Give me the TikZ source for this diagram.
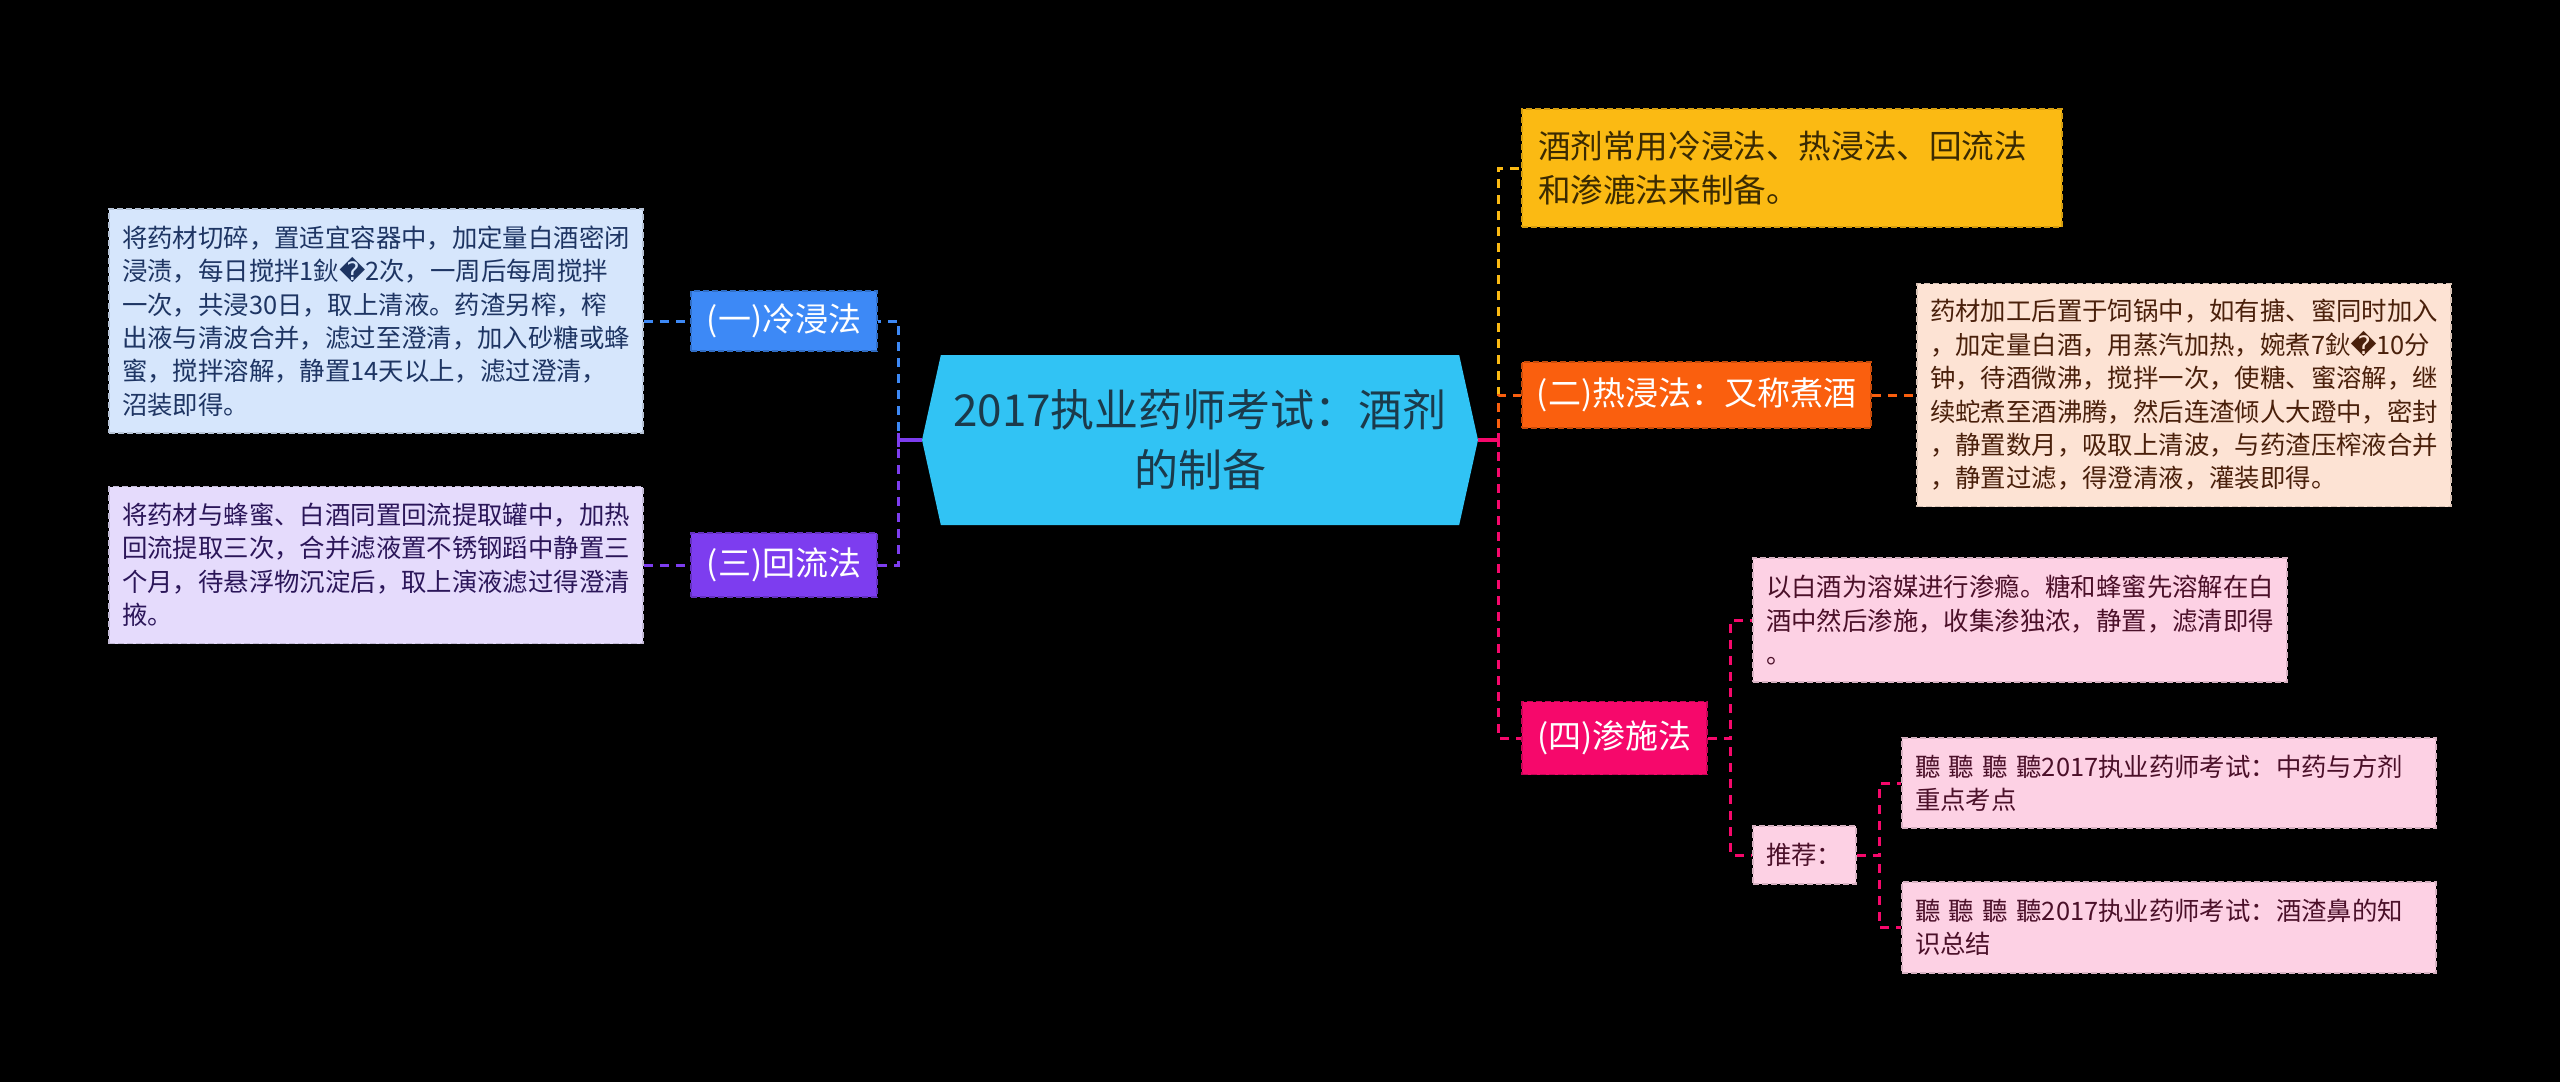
\documentclass[tikz,border=0pt]{standalone}
\usepackage{fontspec}
\setmainfont{Noto Sans CJK SC}
\newfontfamily\symfont{DejaVu Sans}
\newcommand{\badchar}{{\symfont\char"FFFD}}
\usetikzlibrary{shapes.symbols}

\definecolor{rootfill}{HTML}{31C3F4}
\definecolor{roottext}{HTML}{1B3A4B}
\definecolor{coldblue}{HTML}{3D89F6}
\definecolor{coldpale}{HTML}{D6E6FC}
\definecolor{coldink}{HTML}{1E3563}
\definecolor{refluxviolet}{HTML}{7D3DEF}
\definecolor{refluxpale}{HTML}{E5DBFC}
\definecolor{refluxink}{HTML}{2B1659}
\definecolor{introamber}{HTML}{FBBA13}
\definecolor{introink}{HTML}{3A2A02}
\definecolor{hotorange}{HTML}{FA5F0E}
\definecolor{hotpale}{HTML}{FDE3D4}
\definecolor{hotink}{HTML}{4A200B}
\definecolor{percrose}{HTML}{F6086B}
\definecolor{percpale}{HTML}{FDD1E4}
\definecolor{percink}{HTML}{4B1029}

\tikzset{
  root/.style={shape=signal, signal to=west and east, signal pointer angle=155,
    fill=rootfill, text=roottext, minimum width=278pt, minimum height=85pt,
    inner sep=0pt, align=center, font=\fontsize{22pt}{30pt}\selectfont},
  branch/.style={fill=#1, draw=#1!80!black, dash pattern=on 3pt off 1.5pt, line width=0.8pt,
    text=white, inner sep=0pt, align=center, font=\fontsize{16.5pt}{22pt}\selectfont},
  leaf/.style={fill=#1, draw=#1!85!black, dash pattern=on 3pt off 1.5pt, line width=0.8pt,
    inner xsep=6.5pt, inner ysep=0pt, text width=254pt, align=left,
    font=\fontsize{12.7pt}{16.7pt}\selectfont},
  link/.style={draw=#1, line width=1.5pt, dash pattern=on 4.5pt off 3.5pt},
  hubline/.style={draw=#1, line width=1.6pt}
}

\begin{document}
\begin{tikzpicture}[x=0.5pt,y=-0.5pt]
  \useasboundingbox[fill=black] (0,0) rectangle (2560,1082);

  \node[root] (root) at (1200,440) {2017执业药师考试：酒剂\\的制备};

  % left branches
  \node[branch=coldblue, minimum width=93pt, minimum height=30pt] (cold) at (784,321) {(一)冷浸法};
  \node[branch=refluxviolet, minimum width=93pt, minimum height=32pt] (reflux) at (784,565) {(三)回流法};
  \node[leaf=coldpale, text=coldink, minimum height=112pt] (coldtxt) at (376,321)
    {将药材切碎，置适宜容器中，加定量白酒密闭\\浸渍，每日搅拌1鈥\badchar2次，一周后每周搅拌\\一次，共浸30日，取上清液。药渣另榨，榨\\出液与清波合并，滤过至澄清，加入砂糖或蜂\\蜜，搅拌溶解，静置14天以上，滤过澄清，\\沼装即得。};
  \node[leaf=refluxpale, text=refluxink, minimum height=78.5pt] (refluxtxt) at (376,565)
    {将药材与蜂蜜、白酒同置回流提取罐中，加热\\回流提取三次，合并滤液置不锈钢蹈中静置三\\个月，待悬浮物沉淀后，取上演液滤过得澄清\\掖。};

  % right branches
  \node[leaf=introamber, text=introink, inner xsep=8pt, font=\fontsize{16.3pt}{22pt}\selectfont,
    minimum height=59pt] (intro) at (1792,168) {酒剂常用冷浸法、热浸法、回流法\\和渗漉法来制备。};
  \node[branch=hotorange, minimum width=174.5pt, minimum height=33pt] (hot) at (1696.5,395) {(二)热浸法：又称煮酒};
  \node[leaf=hotpale, text=hotink, minimum height=111.5pt] (hottxt) at (2184,395)
    {药材加工后置于饲锅中，如有搪、蜜同时加入\\，加定量白酒，用蒸汽加热，婉煮7鈥\badchar10分\\钟，待酒微沸，搅拌一次，使糖、蜜溶解，继\\续蛇煮至酒沸腾，然后连渣倾人大蹬中，密封\\，静置数月，吸取上清波，与药渣压榨液合并\\，静置过滤，得澄清液，灌装即得。};
  \node[branch=percrose, minimum width=92.5pt, minimum height=36.5pt] (perc) at (1614.5,738) {(四)渗施法};
  \node[leaf=percpale, text=percink, minimum height=62pt] (perctxt) at (2020,620)
    {以白酒为溶媒进行渗瘾。糖和蜂蜜先溶解在白\\酒中然后渗施，收集渗独浓，静置，滤清即得\\。};
  \node[leaf=percpale, text=percink, text width=38.5pt, minimum height=29pt] (recom) at (1804.5,855) {推荐：};
  \node[leaf=percpale, text=percink, minimum height=45pt] (recA) at (2169,783)
    {聽 聽 聽 聽2017执业药师考试：中药与方剂\\重点考点};
  \node[leaf=percpale, text=percink, minimum height=45.5pt] (recB) at (2169,927.5)
    {聽 聽 聽 聽2017执业药师考试：酒渣鼻的知\\识总结};

  % connectors
  \draw[link=coldblue] (coldtxt) -- (cold);
  \draw[link=refluxviolet] (refluxtxt) -- (reflux);
  \draw[link=coldblue] (root.west) -- ++(-23,0) |- (cold.east);
  \draw[link=refluxviolet] (root.west) -- ++(-23,0) |- (reflux.east);
  \draw[hubline=refluxviolet] (root.west) -- ++(-23,0) ++(0,-7) -- ++(0,14);

  \draw[link=introamber] (root.east) -- ++(20,0) |- (intro.west);
  \draw[link=hotorange] (root.east) -- ++(20,0) |- (hot.west);
  \draw[link=percrose] (root.east) -- ++(20,0) |- (perc.west);
  \draw[hubline=percrose] (root.east) -- ++(20,0) ++(0,-7) -- ++(0,14);
  \draw[link=hotorange] (hot) -- (hottxt);

  \draw[link=percrose] (perc.east) -- ++(23,0) |- (perctxt.west);
  \draw[link=percrose] (perc.east) -- ++(23,0) |- (recom.west);
  \draw[link=percrose] (recom.east) -- ++(23,0) |- (recA.west);
  \draw[link=percrose] (recom.east) -- ++(23,0) |- (recB.west);
\end{tikzpicture}
\end{document}
